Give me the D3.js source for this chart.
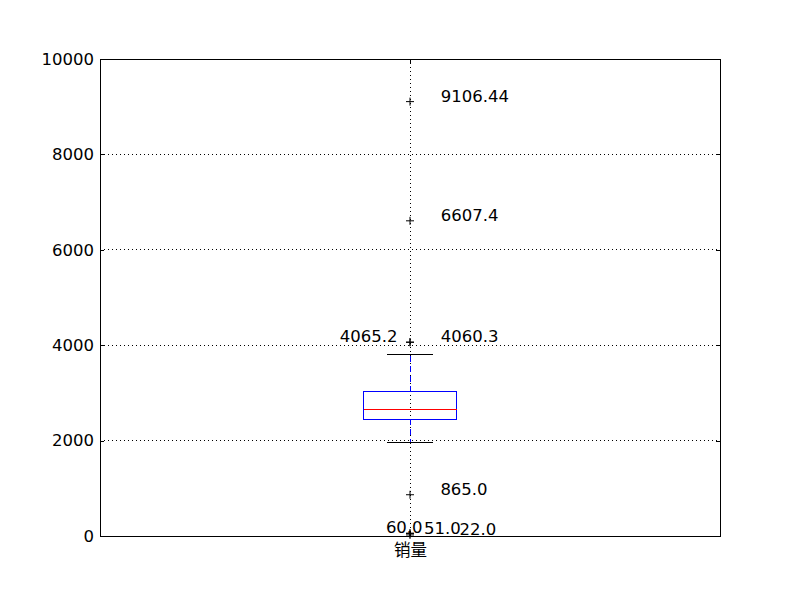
<!DOCTYPE html>
<html>
<head>
<meta charset="utf-8">
<script src="https://cdn.jsdelivr.net/npm/d3@7"></script>
<style>
  body { margin: 0; background: #fff; }
  text { font-family: "DejaVu Sans", sans-serif; }
  line, rect { shape-rendering: crispEdges; }
</style>
</head>
<body>
<div id="chart"></div>
<script>
// box statistics for the single column
const category = '销量';
const boxStats = { q1: 2452, median: 2656, q3: 3026, whiskerLow: 1950, whiskerHigh: 3795 };
const outliers = [22.0, 51.0, 60.0, 865.0, 4060.3, 4065.2, 6607.4, 9106.44];
const outlierLabels = ['22.0', '51.0', '60.0', '865.0', '4060.3', '4065.2', '6607.4', '9106.44'];
const yTicks = [0, 2000, 4000, 6000, 8000, 10000];

const width = 800;
const height = 596;
const margin = { top: 59, right: 80, bottom: 60, left: 100 };
const innerWidth = width - margin.left - margin.right;
const innerHeight = height - margin.top - margin.bottom;

const svg = d3.select('#chart')
  .append('svg')
  .attr('width', width)
  .attr('height', height)
  .append('g')
  .attr('transform', `translate(${margin.left}, ${margin.top})`);

const scaleX = d3.scaleLinear().domain([0.5, 1.5]).range([0, innerWidth]);
const scaleY = d3.scaleLinear().domain([0, 10000]).range([innerHeight, 0]);

// grid (dotted)
svg.append('g')
  .selectAll('line')
  .data(yTicks)
  .enter()
  .append('line')
  .attr('x1', 0)
  .attr('x2', innerWidth)
  .attr('y1', d => scaleY(d))
  .attr('y2', d => scaleY(d))
  .attr('stroke', '#000')
  .attr('stroke-width', 1)
  .attr('stroke-dasharray', '1,3');

svg.append('line')
  .attr('x1', scaleX(1))
  .attr('x2', scaleX(1))
  .attr('y1', 0)
  .attr('y2', innerHeight)
  .attr('stroke', '#000')
  .attr('stroke-width', 1)
  .attr('stroke-dasharray', '1,3');

// axes, ticks inward on both sides
const yAxis = d3.axisLeft(scaleY).tickValues(yTicks).tickSize(-4).tickPadding(6).tickFormat(d3.format('d'));
const yAxisRight = d3.axisRight(scaleY).tickValues(yTicks).tickSize(-4).tickFormat('');
const xAxis = d3.axisBottom(scaleX).tickValues([1]).tickSize(-4).tickPadding(8).tickFormat(() => category);
const xAxisTop = d3.axisTop(scaleX).tickValues([1]).tickSize(-4).tickFormat('');

function styleAxis(g) {
  g.select('.domain').remove();
  g.selectAll('line').attr('stroke', '#000');
  g.selectAll('text').attr('fill', '#000').style('font-size', '16.5px').style('font-family', '"DejaVu Sans", "Noto Sans CJK SC", sans-serif');
}

svg.append('g').call(yAxis).call(styleAxis);
svg.append('g').attr('transform', `translate(${innerWidth}, 0)`).call(yAxisRight).call(styleAxis);
svg.append('g').attr('transform', `translate(0, ${innerHeight})`).call(xAxis).call(styleAxis);
svg.append('g').call(xAxisTop).call(styleAxis);

// box
const cx = scaleX(1);
const boxHalf = scaleX(1.075) - cx;
const capHalf = scaleX(1.0375) - cx;

svg.append('line')
  .attr('x1', cx).attr('x2', cx)
  .attr('y1', scaleY(boxStats.q3)).attr('y2', scaleY(boxStats.whiskerHigh))
  .attr('stroke', '#0000ff').attr('stroke-width', 1).attr('stroke-dasharray', '6,4');
svg.append('line')
  .attr('x1', cx).attr('x2', cx)
  .attr('y1', scaleY(boxStats.q1)).attr('y2', scaleY(boxStats.whiskerLow))
  .attr('stroke', '#0000ff').attr('stroke-width', 1).attr('stroke-dasharray', '6,4');

svg.selectAll('.cap')
  .data([boxStats.whiskerLow, boxStats.whiskerHigh])
  .enter()
  .append('line')
  .attr('class', 'cap')
  .attr('x1', cx - capHalf).attr('x2', cx + capHalf)
  .attr('y1', d => scaleY(d)).attr('y2', d => scaleY(d))
  .attr('stroke', '#000').attr('stroke-width', 1);

svg.append('rect')
  .attr('x', cx - boxHalf)
  .attr('y', scaleY(boxStats.q3))
  .attr('width', boxHalf * 2)
  .attr('height', scaleY(boxStats.q1) - scaleY(boxStats.q3))
  .attr('fill', 'none')
  .attr('stroke', '#0000ff')
  .attr('stroke-width', 1);

svg.append('line')
  .attr('x1', cx - boxHalf).attr('x2', cx + boxHalf)
  .attr('y1', scaleY(boxStats.median)).attr('y2', scaleY(boxStats.median))
  .attr('stroke', '#ff0000').attr('stroke-width', 1);

// fliers
svg.selectAll('.flier')
  .data(outliers)
  .enter()
  .append('path')
  .attr('class', 'flier')
  .attr('transform', d => `translate(${cx}, ${scaleY(d)})`)
  .attr('d', 'M-4,0H4M0,-4V4')
  .attr('stroke', '#000')
  .attr('stroke-width', 1);

// annotations: offset shrinks when neighbours are close
svg.selectAll('.note')
  .data(outliers)
  .enter()
  .append('text')
  .attr('class', 'note')
  .attr('x', (d, i) => scaleX(1 + (i > 0 ? 0.05 - 0.8 / (d - outliers[i - 1]) : 0.08)))
  .attr('y', d => scaleY(d))
  .attr('fill', '#000')
  .style('font-size', '16.5px')
  .text((d, i) => outlierLabels[i]);

// frame
svg.append('rect')
  .attr('width', innerWidth)
  .attr('height', innerHeight)
  .attr('fill', 'none')
  .attr('stroke', '#000')
  .attr('stroke-width', 1);
</script>
</body>
</html>
